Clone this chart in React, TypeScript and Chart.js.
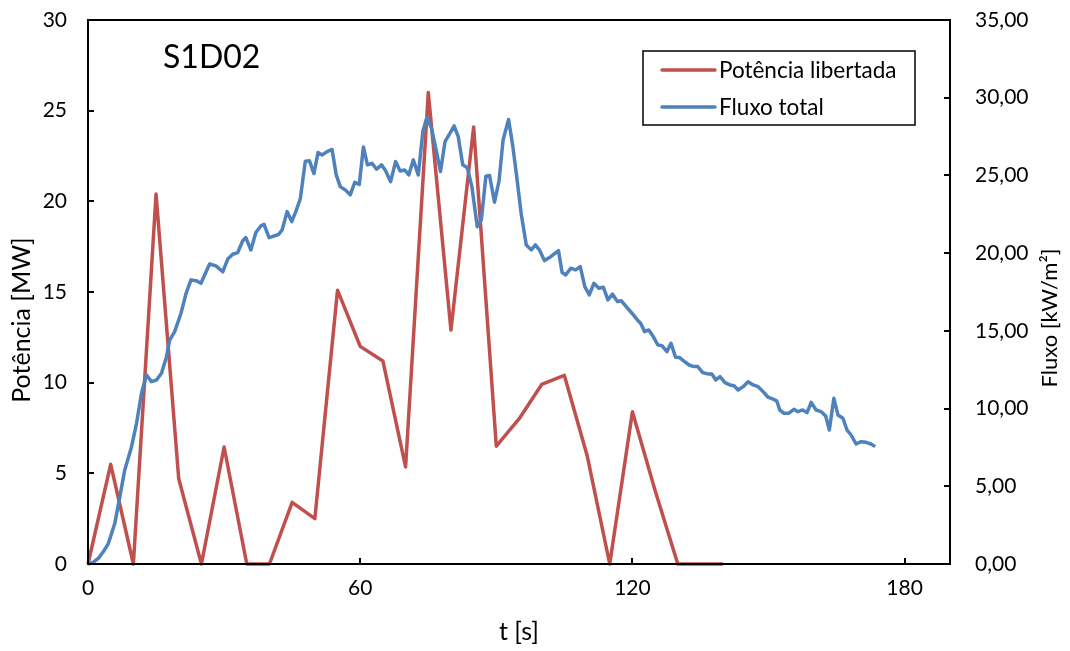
import React, { useEffect, useRef } from "react";
import { Chart, registerables } from "chart.js";

Chart.register(...registerables);

// Potência libertada [MW] (5 s steps)
const powerT = [0, 5, 10, 15, 20, 25, 30, 35, 40, 45, 50, 55, 60, 65, 70, 75, 80, 85, 90, 95, 100, 105, 110, 115, 120, 125, 130, 135, 140];
const powerV = [0, 5.5, 0, 20.4, 4.7, 0, 6.45, 0, 0, 3.4, 2.5, 15.1, 12.0, 11.2, 5.35, 26.0, 12.9, 24.1, 6.5, 8.0, 9.9, 10.4, 6.0, 0, 8.4, 4.05, 0, 0, 0];

// Fluxo total [kW/m²]
const fluxT = [
  0, 1.2, 2.3, 3.4, 4.5, 5.9, 7.0, 8.1, 9.6, 10.7, 11.8, 12.9, 14.0, 15.1, 16.2, 17.3, 18.0, 19.1, 20.5, 21.6,
  22.7, 23.8, 24.9, 26.8, 28.2, 29.7, 30.8, 31.9, 33.0, 34.1, 34.8, 35.9, 37.0, 38.1, 38.8, 39.9, 42.0, 42.8, 43.9, 44.9,
  45.8, 46.8, 47.9, 48.8, 49.8, 50.7, 51.6, 52.7, 53.8, 54.7, 55.6, 56.7, 57.8, 58.8, 59.8, 60.7, 61.6, 62.6, 63.6, 64.7,
  65.6, 66.7, 67.8, 68.8, 69.8, 70.7, 71.7, 72.8, 73.8, 74.7, 75.7, 76.7, 77.7, 78.7, 79.8, 80.7, 81.6, 82.6, 83.6, 84.6,
  85.8, 86.7, 87.7, 88.5, 89.6, 90.6, 91.5, 92.7, 93.6, 94.4, 95.5, 96.6, 97.7, 98.6, 99.5, 100.6, 102.0, 103.7, 104.5, 105.3,
  106.4, 107.5, 108.5, 109.5, 110.5, 111.5, 112.6, 113.6, 114.6, 115.6, 116.7, 117.5, 118.9, 120.3, 121.1, 121.8, 122.7, 123.6, 124.6, 125.6,
  126.5, 127.6, 128.5, 129.5, 130.4, 131.5, 132.6, 133.6, 134.4, 135.5, 136.6, 137.5, 138.4, 139.3, 140.4, 141.5, 142.4, 143.3, 144.4, 145.5,
  146.6, 147.7, 148.8, 149.9, 151.0, 151.8, 152.5, 153.4, 154.5, 155.6, 156.5, 157.5, 158.5, 159.4, 160.5, 161.6, 162.6, 163.4, 164.4, 165.3,
  166.4, 167.3, 168.2, 169.3, 170.4, 171.5, 172.6, 173.5,
];
const fluxV = [
  0, 0.12, 0.37, 0.8, 1.33, 2.6, 4.3, 6.05, 7.55, 9.05, 11.0, 12.16, 11.73, 11.84, 12.27, 13.34, 14.4, 14.95, 16.13, 17.4,
  18.28, 18.23, 18.06, 19.3, 19.18, 18.8, 19.62, 19.93, 20.03, 20.8, 21.0, 20.2, 21.33, 21.75, 21.85, 21.0, 21.2, 21.5, 22.67, 22.03,
  22.67, 23.5, 25.92, 25.95, 25.12, 26.47, 26.32, 26.53, 26.67, 25.05, 24.28, 24.07, 23.75, 24.55, 24.42, 26.83, 25.68, 25.78, 25.4, 25.68,
  25.3, 24.6, 25.89, 25.28, 25.35, 25.03, 26.0, 25.03, 27.82, 28.74, 28.04, 26.7, 25.25, 27.18, 27.72, 28.19, 27.5, 25.68, 25.5, 24.3,
  21.7, 22.14, 24.95, 25.0, 23.28, 24.65, 27.3, 28.6, 26.95, 25.14, 22.5, 20.53, 20.21, 20.53, 20.21, 19.52, 19.77, 20.16, 18.75, 18.6,
  19.03, 18.92, 19.13, 17.84, 17.31, 18.06, 17.74, 17.8, 16.99, 17.37, 16.88, 16.94, 16.47, 16.0, 15.7, 15.49, 14.95, 15.06, 14.63, 14.09,
  14.05, 13.66, 14.2, 13.3, 13.28, 13.02, 12.79, 12.7, 12.7, 12.31, 12.23, 12.23, 11.84, 12.05, 11.67, 11.52, 11.47, 11.2, 11.41, 11.73,
  11.52, 11.41, 11.09, 10.73, 10.6, 10.5, 9.9, 9.7, 9.7, 9.95, 9.8, 9.91, 9.74, 10.4, 9.91, 9.8, 9.52, 8.62, 10.66, 9.59,
  9.38, 8.62, 8.3, 7.72, 7.87, 7.83, 7.72, 7.55,
];

const xTicks = [0, 60, 120, 180];
const seriesNames = ["Potência libertada", "Fluxo total"];
const chartTitle = "S1D02";
const xTitle = "t [s]";
const yTitle = "Potência [MW]";
const y2Title = "Fluxo [kW/m²]";

const RED = "#C0504D";
const BLUE = "#4F81BD";
const FONT = "Lato, 'Open Sans', sans-serif";

export default function App() {
  const ref = useRef<HTMLCanvasElement | null>(null);

  useEffect(() => {
    const canvas = ref.current;
    if (!canvas) return;

    const overlay = {
      id: "overlay",
      afterDraw(chart: any) {
        const ctx = chart.ctx;
        const { left, right, top, bottom } = chart.chartArea;
        const sx = chart.scales.x;
        const sy = chart.scales.y;
        const sy2 = chart.scales.y2;
        ctx.save();
        ctx.strokeStyle = "#000";
        ctx.lineWidth = 2;
        // frame
        ctx.strokeRect(left, top, right - left, bottom - top);
        // inside ticks
        ctx.beginPath();
        sx.ticks.forEach((t: any) => {
          const px = Math.round(sx.getPixelForValue(t.value));
          ctx.moveTo(px, bottom);
          ctx.lineTo(px, bottom - 6);
        });
        sy.ticks.forEach((t: any) => {
          const py = Math.round(sy.getPixelForValue(t.value));
          ctx.moveTo(left, py);
          ctx.lineTo(left + 6, py);
        });
        sy2.ticks.forEach((t: any) => {
          const py = Math.round(sy2.getPixelForValue(t.value));
          ctx.moveTo(right, py);
          ctx.lineTo(right - 6, py);
        });
        ctx.stroke();

        // axis titles
        ctx.fillStyle = "#000";
        ctx.textAlign = "center";
        ctx.textBaseline = "middle";
        ctx.font = `25px ${FONT}`;
        ctx.fillText(xTitle, (left + right) / 2, 632);
        const cy = (top + bottom) / 2;
        ctx.save();
        ctx.font = `25px ${FONT}`;
        ctx.translate(22, cy + 28);
        ctx.rotate(-Math.PI / 2);
        ctx.fillText(yTitle, 0, 0);
        ctx.restore();
        ctx.save();
        ctx.font = `22px ${FONT}`;
        ctx.translate(1050, cy + 26);
        ctx.rotate(-Math.PI / 2);
        ctx.fillText(y2Title, 0, 0);
        ctx.restore();

        // chart label
        ctx.font = `32px ${FONT}`;
        ctx.textAlign = "left";
        ctx.textBaseline = "alphabetic";
        ctx.fillText(chartTitle, left + 75, 68);

        // legend
        const bx = 643, by = 51, bw = 272, bh = 74;
        ctx.fillStyle = "#fff";
        ctx.fillRect(bx, by, bw, bh);
        ctx.lineWidth = 1.5;
        ctx.strokeStyle = "#000";
        ctx.strokeRect(bx, by, bw, bh);
        const rows = [
          { name: seriesNames[0], color: RED, y: 70 },
          { name: seriesNames[1], color: BLUE, y: 107 },
        ];
        ctx.font = `22.5px ${FONT}`;
        ctx.textBaseline = "middle";
        rows.forEach((r) => {
          ctx.strokeStyle = r.color;
          ctx.lineWidth = 3.5;
          ctx.lineCap = "round";
          ctx.beginPath();
          ctx.moveTo(662, r.y);
          ctx.lineTo(715, r.y);
          ctx.stroke();
          ctx.fillStyle = "#000";
          ctx.fillText(r.name, 719, r.y + 1);
        });
        ctx.restore();
      },
    };

    const tickFont = { family: FONT, size: 21 };
    const trimPad = (scale: any, w: number) => {
      scale.width = w;
      scale.paddingTop = 0;
      scale.paddingBottom = 0;
    };

    const chart = new Chart(canvas, {
      type: "line",
      data: {
        datasets: [
          {
            label: seriesNames[0],
            data: powerT.map((t, i) => ({ x: t, y: powerV[i] })),
            borderColor: RED,
            borderWidth: 3.5,
            pointRadius: 0,
            tension: 0,
            yAxisID: "y",
            order: 1,
            borderJoinStyle: "round",
            clip: 4,
          },
          {
            label: seriesNames[1],
            data: fluxT.map((t, i) => ({ x: t, y: fluxV[i] })),
            borderColor: BLUE,
            borderWidth: 3.5,
            pointRadius: 0,
            tension: 0,
            yAxisID: "y2",
            order: 0,
            borderJoinStyle: "round",
            clip: 4,
          },
        ],
      },
      options: {
        animation: false,
        responsive: false,
        devicePixelRatio: 1,
        layout: { padding: { top: 20, left: 0, right: 0, bottom: 0 } },
        plugins: {
          legend: { display: false },
          tooltip: { enabled: false },
          title: { display: false },
        },
        scales: {
          x: {
            type: "linear",
            min: 0,
            max: 190,
            afterBuildTicks: (scale: any) => {
              scale.ticks = xTicks.map((v) => ({ value: v }));
            },
            ticks: {
              color: "#000",
              font: tickFont,
              padding: 12,
              maxRotation: 0,
            },
            grid: { display: false, drawTicks: false },
            border: { display: false },
            afterFit: (scale: any) => {
              scale.height = 87;
              scale.paddingLeft = 0;
              scale.paddingRight = 0;
            },
          },
          y: {
            type: "linear",
            position: "left",
            min: 0,
            max: 30,
            ticks: {
              stepSize: 5,
              color: "#000",
              font: tickFont,
              padding: 21,
            },
            grid: { display: false, drawTicks: false },
            border: { display: false },
            afterFit: (scale: any) => trimPad(scale, 88),
          },
          y2: {
            type: "linear",
            position: "right",
            min: 0,
            max: 35,
            ticks: {
              stepSize: 5,
              color: "#000",
              font: tickFont,
              padding: 25,
              callback: (v: any) => Number(v).toFixed(2).replace(".", ","),
            },
            grid: { display: false, drawTicks: false },
            border: { display: false },
            afterFit: (scale: any) => trimPad(scale, 120),
          },
        },
      },
      plugins: [overlay],
    } as any);

    return () => chart.destroy();
  }, []);

  return (
    <div style={{ position: "absolute", left: 0, top: 0, width: 1070, height: 651, background: "#fff" }}>
      <canvas ref={ref} width={1070} height={651} style={{ width: 1070, height: 651, display: "block" }} />
    </div>
  );
}
